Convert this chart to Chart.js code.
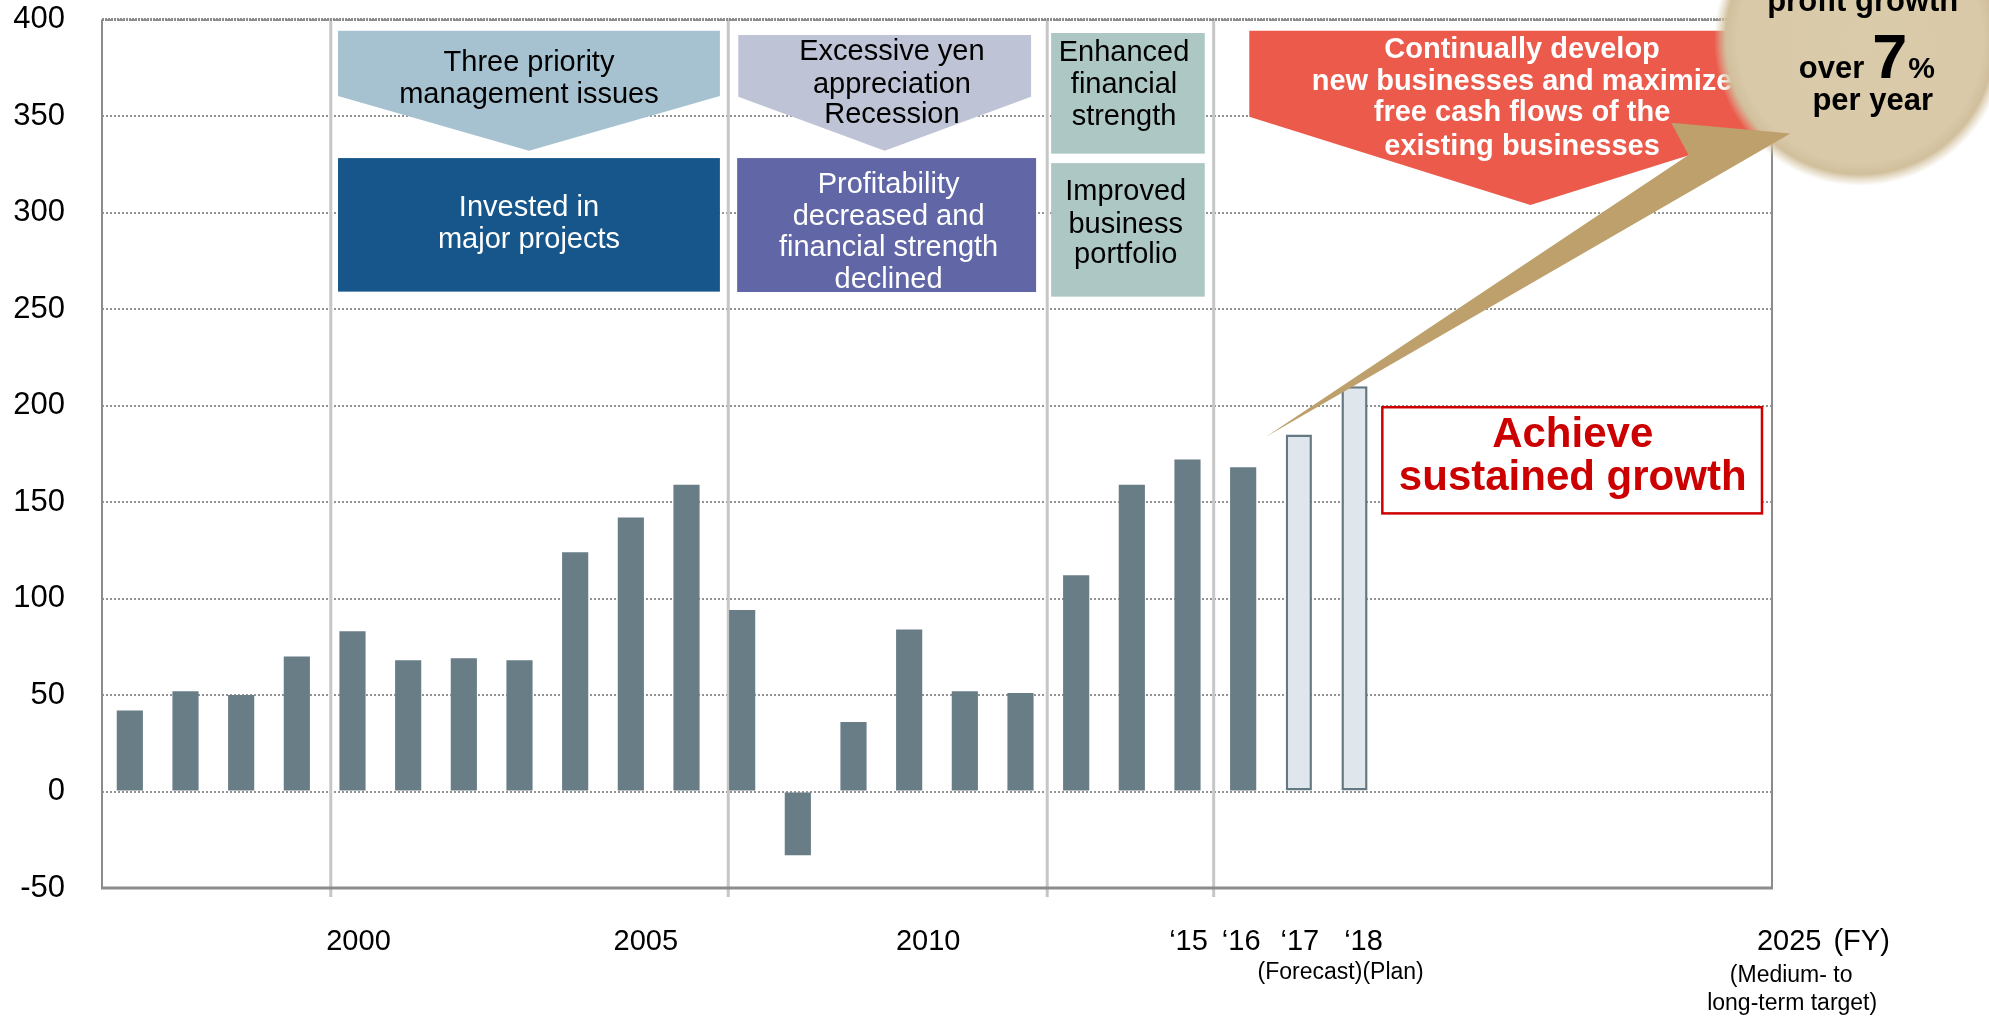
<!DOCTYPE html>
<html>
<head>
<meta charset="utf-8">
<script src="https://cdn.jsdelivr.net/npm/chart.js@4.4.1/dist/chart.umd.min.js"></script>
<style>
    html, body { margin: 0; padding: 0; background: #fff; }
    #wrap { width: 1989px; height: 1017px; position: relative; }
</style>
</head>
<body>
<div id="wrap"><canvas id="profitChart"></canvas></div>
<script>
    // 年度 (FY1996 - FY2025)
    const years = ['1996', '1997', '1998', '1999', '2000', '2001', '2002', '2003', '2004', '2005',
                   '2006', '2007', '2008', '2009', '2010', '2011', '2012', '2013', '2014', '2015',
                   '2016', '2017', '2018', '2019', '2020', '2021', '2022', '2023', '2024', '2025'];
    // 純利益 (2017 = forecast, 2018 = plan)
    const profit = [42, 52, 50, 70, 83, 68, 69, 68, 124, 142,
                    159, 94, -33, 36, 84, 52, 51, 112, 159, 172,
                    168, 185, 210, null, null, null, null, null, null, null];
    const planYears = ['2017', '2018'];

    // x axis labels
    const tickYears = ['2000', '2005', '2010', '2015', '2016', '2017', '2018', '2025'];
    const tickTexts = ['2000', '2005', '2010', '\u201815', '\u201816', '\u201817', '\u201818', '2025'];

    // y axis
    const yMin = -50, yMax = 400, yStep = 50;

    const FONT = '"Liberation Sans", Arial, Helvetica, sans-serif';

    function line(ctx, x0, y0, x1, y1) {
        ctx.beginPath(); ctx.moveTo(x0, y0); ctx.lineTo(x1, y1); ctx.stroke();
    }

    function poly(ctx, pts, color) {
        ctx.beginPath();
        pts.forEach((p, i) => i ? ctx.lineTo(p[0], p[1]) : ctx.moveTo(p[0], p[1]));
        ctx.closePath();
        ctx.fillStyle = color;
        ctx.fill();
    }

    // 下向きの五角形矢印
    function pentagon(ctx, x0, x1, top, shoulder, tipX, tipY, color) {
        poly(ctx, [[x0, top], [x1, top], [x1, shoulder], [tipX, tipY], [x0, shoulder]], color);
    }

    function box(ctx, x0, y0, x1, y1, color) {
        ctx.fillStyle = color;
        ctx.fillRect(x0, y0, x1 - x0, y1 - y0);
    }

    function text(ctx, lines, cx, ys, font, color) {
        ctx.font = font;
        ctx.fillStyle = color;
        ctx.textAlign = 'center';
        ctx.textBaseline = 'middle';
        lines.forEach((t, i) => ctx.fillText(t, cx, ys[i]));
    }

    // separators between the phases (category index)
    const phaseBreaks = [3.61, 10.75, 16.48, 19.47];
    // small shifts of the year labels, px
    const tickShift = [6, 15, 19, 1, -2, 1, 9, 45];

    const decor = {
        id: 'decor',
        beforeDatasetsDraw(chart) {
            const { ctx, chartArea: a, scales: { x } } = chart;
            ctx.save();
            ctx.strokeStyle = '#c6c6c6';
            ctx.lineWidth = 3;
            phaseBreaks.forEach(i => {
                const px = x.getPixelForValue(i);
                line(ctx, px, a.top - 1, px, a.bottom + 9);
            });
            // 外枠
            ctx.strokeStyle = '#8c8c8c';
            ctx.lineWidth = 2;
            line(ctx, a.left, a.top, a.left, a.bottom);
            line(ctx, a.right, a.top, a.right, a.bottom);
            ctx.lineWidth = 3;
            line(ctx, a.left - 1, a.bottom, a.right + 1, a.bottom);
            ctx.setLineDash([2, 1]);
            line(ctx, a.left, a.top, a.right, a.top);
            ctx.restore();
        },
        afterDatasetsDraw(chart) {
            const { ctx, chartArea: a, scales: { x, y } } = chart;
            const X = i => x.getPixelForValue(i);
            const Y = v => y.getPixelForValue(v);
            const pitch = X(1) - X(0);
            const reg = '29px ' + FONT, bold = 'bold 29px ' + FONT;
            ctx.save();

            // phase shapes
            pentagon(ctx, X(3.74), X(10.60), Y(394.2), Y(360.4), X(7.17), Y(332.0), '#a6c1cf');
            box(ctx, X(3.74), Y(328.2), X(10.60), Y(259.0), '#17568a');
            pentagon(ctx, X(10.93), X(16.19), Y(392.0), Y(360.0), X(13.56), Y(332.0), '#bfc3d6');
            box(ctx, X(10.91), Y(328.2), X(16.28), Y(258.8), '#6066a6');
            box(ctx, X(16.55), Y(393.0), X(19.31), Y(330.5), '#adc8c4');
            box(ctx, X(16.55), Y(325.6), X(19.31), Y(256.4), '#adc8c4');
            pentagon(ctx, X(20.11), X(30.21), Y(394.2), Y(349.6), X(25.16), Y(303.9), '#eb5a4b');

            text(ctx, ['Three priority', 'management issues'], X(7.17), [Y(377.5), Y(360.9)], reg, '#000');
            text(ctx, ['Invested in', 'major projects'], X(7.17), [Y(302.3), Y(285.8)], reg, '#fff');
            text(ctx, ['Excessive yen', 'appreciation', 'Recession'], X(13.69),
                 [Y(383.2), Y(366.1), Y(350.5)], reg, '#000');
            text(ctx, ['Profitability', 'decreased and', 'financial strength', 'declined'], X(13.63),
                 [Y(314.2), Y(297.6), Y(281.6), Y(265.0)], reg, '#fff');
            text(ctx, ['Enhanced', 'financial', 'strength'], X(17.86), [Y(382.6), Y(366.1), Y(349.6)], reg, '#000');
            text(ctx, ['Improved', 'business', 'portfolio'], X(17.89), [Y(310.6), Y(293.5), Y(278.0)], reg, '#000');
            text(ctx, ['Continually develop', 'new businesses and maximize', 'free cash flows of the', 'existing businesses'],
                 X(25.01), [Y(384.2), Y(367.6), Y(351.6), Y(334.0)], bold, '#fff');

            // Achieve sustained growth
            const bx0 = X(22.5), by0 = Y(199.1), bx1 = X(29.32), by1 = Y(144.1);
            box(ctx, bx0, by0, bx1, by1, '#fff');
            ctx.strokeStyle = '#cc0000';
            ctx.lineWidth = 2.5;
            ctx.strokeRect(bx0, by0, bx1 - bx0, by1 - by0);
            text(ctx, ['Achieve', 'sustained growth'], X(25.92), [Y(184.7), Y(162.4)], 'bold 42px ' + FONT, '#cc0000');

            // 目標の円
            const cx = X(31.08), cy = Y(389.4), r = 2.335 * pitch;
            const g = ctx.createRadialGradient(cx, cy, 0, cx, cy, r + 16);
            g.addColorStop(0, '#dacbab');
            g.addColorStop(0.84, '#d9c9a9');
            g.addColorStop(0.92, '#d1bf9c');
            g.addColorStop(1, 'rgba(217,201,169,0)');
            ctx.fillStyle = g;
            ctx.beginPath(); ctx.arc(cx, cy, r + 16, 0, Math.PI * 2); ctx.fill();

            // growth arrow
            poly(ctx, [[X(20.41), Y(183.8)], [X(28.0), Y(329.8)], [X(27.69), Y(346.5)], [X(29.83), Y(340.9)]], '#bda06b');

            // text in the circle
            const big = 'bold 31px ' + FONT;
            ctx.font = big;
            ctx.fillStyle = '#000';
            ctx.textAlign = 'center';
            ctx.textBaseline = 'alphabetic';
            ctx.fillText('profit growth', X(31.13), Y(404.5));
            const c2 = X(31.23), base2 = Y(369.6);
            ctx.textAlign = 'right';
            ctx.fillText('over', c2 - 4, base2);
            ctx.textAlign = 'left';
            ctx.font = 'bold 63px ' + FONT;
            ctx.fillText('7', c2 + 4, base2);
            const w7 = ctx.measureText('7').width;
            ctx.font = 'bold 30px ' + FONT;
            ctx.fillText('%', c2 + 5 + w7, base2);
            ctx.font = big;
            ctx.textAlign = 'center';
            ctx.fillText('per year', X(31.31), Y(353.1));

            // x labels
            ctx.font = reg;
            ctx.fillStyle = '#000';
            ctx.textAlign = 'center';
            ctx.textBaseline = 'middle';
            const ly = a.bottom + 54;
            tickYears.forEach((yr, i) => {
                ctx.fillText(tickTexts[i], X(years.indexOf(yr)) + tickShift[i], ly);
            });
            const x25 = X(years.indexOf('2025')) + tickShift[7];
            ctx.textAlign = 'left';
            ctx.fillText('(FY)', x25 + ctx.measureText('2025').width / 2 + 12, ly);
            ctx.font = '23px ' + FONT;
            ctx.textAlign = 'center';
            ctx.fillText('(Forecast)(Plan)', X(21.5) + 14, a.bottom + 85);
            ctx.fillText('(Medium- to', x25 + 2, a.bottom + 88);
            ctx.fillText('long-term target)', x25 + 3, a.bottom + 116);
            ctx.restore();
        }
    };

    const ctx = document.getElementById('profitChart').getContext('2d');
    const myChart = new Chart(ctx, {
        type: 'bar',
        data: {
            labels: years,
            datasets: [{
                data: profit,
                backgroundColor: years.map(yr => planYears.includes(yr) ? '#dfe7ed' : '#697d86'),
                borderColor: '#647882',
                borderWidth: years.map(yr => planYears.includes(yr) ? 2.5 : 0),
                borderSkipped: false,
                categoryPercentage: 1,
                barPercentage: 0.47
            }]
        },
        options: {
            responsive: true,
            maintainAspectRatio: false,
            animation: false,
            layout: { padding: { top: 19.5, right: 217, bottom: 0, left: 0 } },
            plugins: {
                legend: { display: false },
                tooltip: { enabled: false }
            },
            scales: {
                x: {
                    grid: { display: false },
                    border: { display: false },
                    ticks: { display: false },
                    afterFit(scale) { scale.height = 129; }
                },
                y: {
                    min: yMin,
                    max: yMax,
                    ticks: {
                        stepSize: yStep,
                        color: '#000',
                        padding: 0,
                        font: { family: FONT, size: 31 }
                    },
                    grid: { color: '#939393', lineWidth: 2, drawTicks: true, tickLength: 37, tickColor: 'rgba(0,0,0,0)' },
                    border: { display: false, dash: [2, 2] },
                    afterFit(scale) { scale.width = 102; }
                }
            }
        },
        plugins: [decor]
    });
</script>
</body>
</html>
